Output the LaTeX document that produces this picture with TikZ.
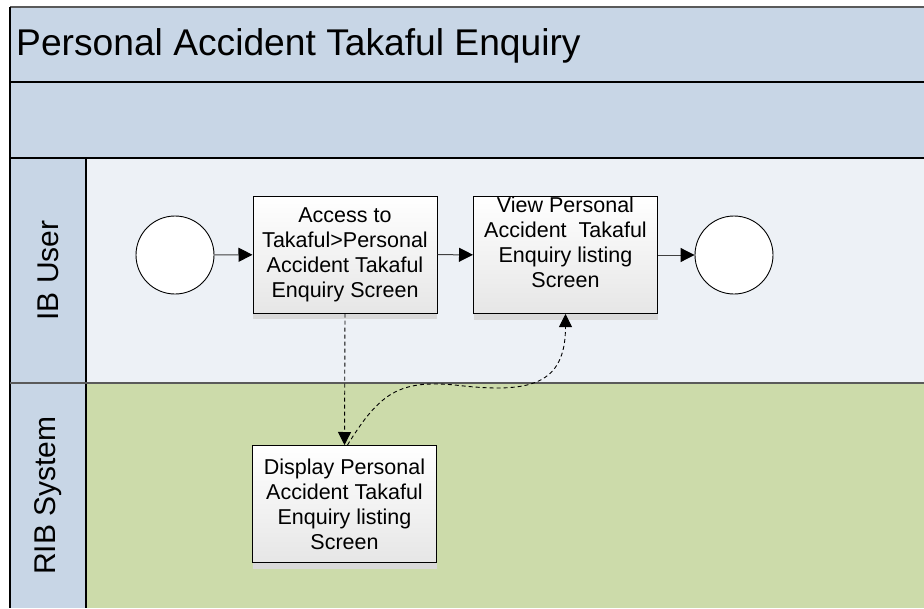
\documentclass[tikz,border=0pt]{standalone}
\usepackage{fontspec}
\setmainfont{Liberation Sans}
\usetikzlibrary{arrows.meta,shadows}
\definecolor{poolblue}{RGB}{200,214,230}
\definecolor{lanelight}{RGB}{237,241,246}
\definecolor{lanegreen}{RGB}{204,219,170}
\definecolor{boxgray}{RGB}{230,230,230}
\definecolor{flowgray}{RGB}{64,64,64}
\definecolor{framegray}{RGB}{90,90,90}
\begin{document}
\begin{tikzpicture}[x=1pt,y=-1pt,
  taskbox/.style={draw=black, line width=1pt, top color=white, bottom color=boxgray,
    minimum width=184pt, minimum height=117pt, inner sep=0pt, align=center,
    font=\fontsize{21.5}{25}\selectfont,
    drop shadow={shadow xshift=0pt, shadow yshift=-6pt, fill=black!15, opacity=1}},
  event/.style={circle, draw=black, line width=0.9pt, fill=white, minimum size=78pt, inner sep=0pt},
  flow/.style={draw=flowgray, line width=1pt, -{Triangle[length=14pt,width=14pt,color=black]}},
  msg/.style={draw=black, line width=0.9pt, dash pattern=on 4pt off 3pt, -{Triangle[length=13pt,width=13pt,color=black]}},
  lanelabel/.style={rotate=90, font=\fontsize{30}{36}\selectfont},
  rule/.style={draw=black, line width=1.6pt}
]
\useasboundingbox (0,0) rectangle (924,608);
\fill[white] (0,0) rectangle (924,608);
% pool bands
\fill[poolblue] (10,7) rectangle (924,158);
\fill[poolblue] (10,158) rectangle (86,608);
\fill[lanelight] (86,158) rectangle (924,383);
\fill[lanegreen] (86,383) rectangle (924,608);
% frame lines
\draw[draw=framegray, line width=1.8pt] (10,7) -- (924,7);
\draw[rule] (10,7) -- (10,608);
\draw[rule] (10,82) -- (924,82);
\draw[rule] (10,158) -- (924,158);
\draw[draw=black, line width=1.2pt] (86,158) -- (86,608);
\draw[draw=framegray, line width=2pt] (10,383) -- (924,383);
% texts
\node[anchor=base west, font=\fontsize{37.2}{44}\selectfont, inner sep=0pt] (title) at (16,55) {Personal Accident Takaful Enquiry};
\node[lanelabel] (ibuser) at (48,270.5) {IB User};
\node[lanelabel] (ribsys) at (48,495.5) {RIB System};
% nodes
\node[event] (start) at (175,255) {};
\node[taskbox] (A) at (345,254.5) {Access to\\Takaful>Personal\\Accident Takaful\\Enquiry Screen};
\node[taskbox, label={[align=center, font=\fontsize{21.5}{25}\selectfont, yshift=12.5pt]center:View Personal\\Accident\ \ Takaful\\Enquiry listing\\Screen}] (B) at (565.5,255) {};
\node[event] (end) at (734,255) {};
\node[taskbox] (C) at (344.5,504) {Display Personal\\Accident Takaful\\Enquiry listing\\Screen};
% connectors
\draw[flow] (start) -- (A);
\draw[flow] (A) -- (B);
\draw[flow] (B) -- (end);
\draw[msg] (A.south) -- (C.north);
\draw[msg] ([xshift=3pt]C.north) .. controls (380,392) and (400,380) .. (455,385)
  .. controls (530,394) and (565.5,385) .. (B.south);
\end{tikzpicture}
\end{document}
